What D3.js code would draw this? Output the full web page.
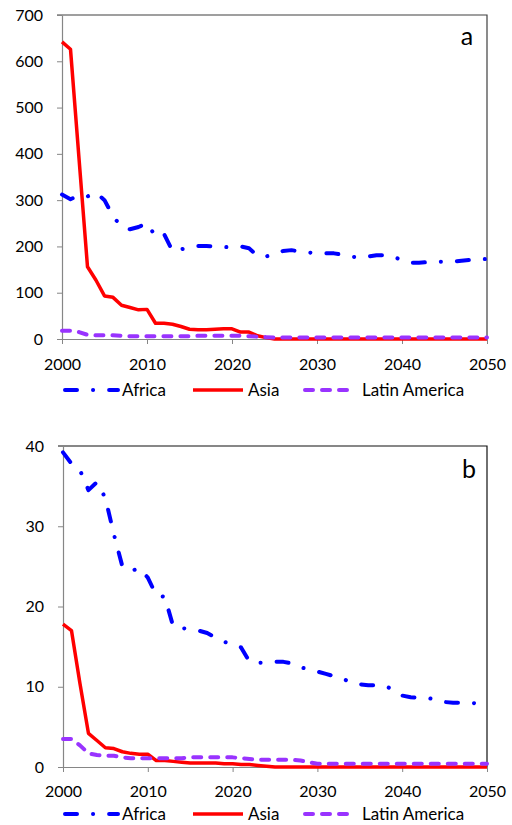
<!DOCTYPE html>
<html>
<head>
<meta charset="utf-8">
<script src="https://d3js.org/d3.v7.min.js"></script>
<style>
  body { margin: 0; background: #fff; }
  text { font-family: Lato, "Open Sans", sans-serif; fill: #000; }
</style>
</head>
<body>
<svg id="chart" width="512" height="825"></svg>
<script>
// years on the x axis
var years = [2000,2001,2002,2003,2004,2005,2006,2007,2008,2009,
             2010,2011,2012,2013,2014,2015,2016,2017,2018,2019,
             2020,2021,2022,2023,2024,2025,2026,2027,2028,2029,
             2030,2031,2032,2033,2034,2035,2036,2037,2038,2039,
             2040,2041,2042,2043,2044,2045,2046,2047,2048,2049,2050];

var seriesNames = ["Africa", "Asia", "Latin America"];

// panel a
var africaA = [312,302,310,308,316,300,265,243,237,242,
               250,222,227,190,194,197,201,201,200,199,
               198,200,196,180,178,184,190,192,189,187,
               185,185,185,182,178,176,178,181,181,178,
               170,165,165,166,167,167,167,169,171,172,173];
var asiaA = [642,626,390,156,127,93,90,73,68,63,
             64,34,34,32,27,21,20,20,21,22,
             22,15,15,7,3,0,0,0,0,0,
             0,0,0,0,0,0,0,0,0,0,
             0,0,0,0,0,0,0,0,0,0,0];
var latinA = [18,18,15,9,8,8,8,7,6,6,
              6,6,6,6,6,6,7,7,7,7,
              7,7,6,5,4,3,3,3,3,3,
              3,3,3,3,3,3,3,3,3,3,
              3,3,3,3,3,3,3,3,3,3,3];
var ticksA = [0,100,200,300,400,500,600,700];

// panel b
var africaB = [39.2,37.8,37.0,34.5,35.5,33.5,29.0,25.0,24.4,24.8,
               23.6,21.4,21.2,17.5,17.3,17.2,17.0,16.7,16.1,15.6,
               15.3,14.9,13.1,13.0,13.0,13.1,13.1,12.9,12.4,12.2,
               11.9,11.6,11.3,11.0,10.5,10.3,10.2,10.2,10.1,9.6,
               8.9,8.7,8.6,8.6,8.4,8.1,8.0,8.0,8.0,7.9,7.8];
var asiaB = [17.8,17.0,10.4,4.2,3.3,2.4,2.3,1.9,1.7,1.6,
             1.6,0.8,0.8,0.7,0.6,0.5,0.5,0.5,0.5,0.4,
             0.4,0.3,0.3,0.2,0.1,0,0,0,0,0,
             0,0,0,0,0,0,0,0,0,0,
             0,0,0,0,0,0,0,0,0,0,0];
var latinB = [3.5,3.5,2.7,1.7,1.5,1.4,1.4,1.2,1.1,1.1,
              1.1,1.1,1.1,1.1,1.1,1.2,1.2,1.2,1.2,1.2,
              1.2,1.1,1.0,0.9,0.9,0.9,0.9,0.9,0.8,0.6,
              0.4,0.4,0.4,0.4,0.4,0.4,0.4,0.4,0.4,0.4,
              0.4,0.4,0.4,0.4,0.4,0.4,0.4,0.4,0.4,0.4,0.4];
var ticksB = [0,10,20,30,40];

var xTicks = [2000,2010,2020,2030,2040,2050];

var styles = {
  "Africa":        { color: "#0000ff", width: 4,   dash: "12,16,0.1,16", cap: "round" },
  "Asia":          { color: "#ff0000", width: 3.5, dash: null,           cap: "butt" },
  "Latin America": { color: "#9933ff", width: 4,   dash: "8,9",          cap: "round" }
};

var svg = d3.select("#chart");

function drawPanel(p) {
  var x = d3.scaleLinear().domain([2000, 2050]).range([p.left, p.right]);
  var y = d3.scaleLinear().domain([0, p.max]).range([p.bottom, p.top]);
  var g = svg.append("g");

  // frame top and right
  g.append("path")
    .attr("d", "M" + (p.left - 5) + "," + p.top + "H" + p.right + "V" + p.bottom)
    .attr("fill", "none")
    .attr("stroke", p.frame)
    .attr("stroke-width", 1.2);

  var yAxis = g.append("g")
    .attr("transform", "translate(" + p.left + ",0)")
    .call(d3.axisLeft(y).tickValues(p.ticks).tickSize(5).tickPadding(14).tickSizeOuter(0));
  var xAxis = g.append("g")
    .attr("transform", "translate(0," + p.bottom + ")")
    .call(d3.axisBottom(x).tickValues(xTicks).tickFormat(d3.format("d")).tickSize(5).tickPadding(p.xPad).tickSizeOuter(0));

  [yAxis, xAxis].forEach(function(a) {
    a.select(".domain").attr("stroke", "#868686").attr("stroke-width", 1.2);
    a.selectAll(".tick line").attr("stroke", "#868686");
    a.selectAll("text").style("font-size", "16px").attr("fill", "#000");
  });

  var line = d3.line()
    .x(function(d, i) { return x(years[i]); })
    .y(function(d) { return y(d); });

  var data = [["Asia", p.asia], ["Latin America", p.latin], ["Africa", p.africa]];
  data.forEach(function(s) {
    var st = styles[s[0]];
    g.append("path")
      .datum(s[1])
      .attr("d", line)
      .attr("fill", "none")
      .attr("stroke", st.color)
      .attr("stroke-width", st.width)
      .attr("stroke-dasharray", st.dash)
      .attr("stroke-linecap", st.cap)
      .attr("stroke-linejoin", "round");
  });

  g.append("text")
    .attr("x", p.labelX)
    .attr("y", p.labelY)
    .attr("text-anchor", "middle")
    .style("font-size", "25px")
    .text(p.label);

  // legend
  var legX = [[65, 118, 122], [193, 243, 248], [305, 352, 362]];
  seriesNames.forEach(function(name, i) {
    var st = styles[name];
    g.append("line")
      .attr("x1", legX[i][0]).attr("x2", legX[i][1])
      .attr("y1", p.legendY).attr("y2", p.legendY)
      .attr("stroke", st.color)
      .attr("stroke-width", st.width)
      .attr("stroke-dasharray", st.dash)
      .attr("stroke-linecap", st.cap);
    g.append("text")
      .attr("x", legX[i][2])
      .attr("y", p.legendY)
      .attr("dy", "0.35em")
      .style("font-size", "17px")
      .text(name);
  });
}

drawPanel({ left: 62, right: 487, top: 15, bottom: 339, max: 700, ticks: ticksA,
            africa: africaA, asia: asiaA, latin: latinA, frame: "#404040",
            xPad: 15, label: "a", labelX: 467, labelY: 45, legendY: 390 });

drawPanel({ left: 63, right: 487, top: 446, bottom: 767, max: 40, ticks: ticksB,
            africa: africaB, asia: asiaB, latin: latinB, frame: "#111",
            xPad: 14, label: "b", labelX: 469, labelY: 478, legendY: 814 });
</script>
</body>
</html>
